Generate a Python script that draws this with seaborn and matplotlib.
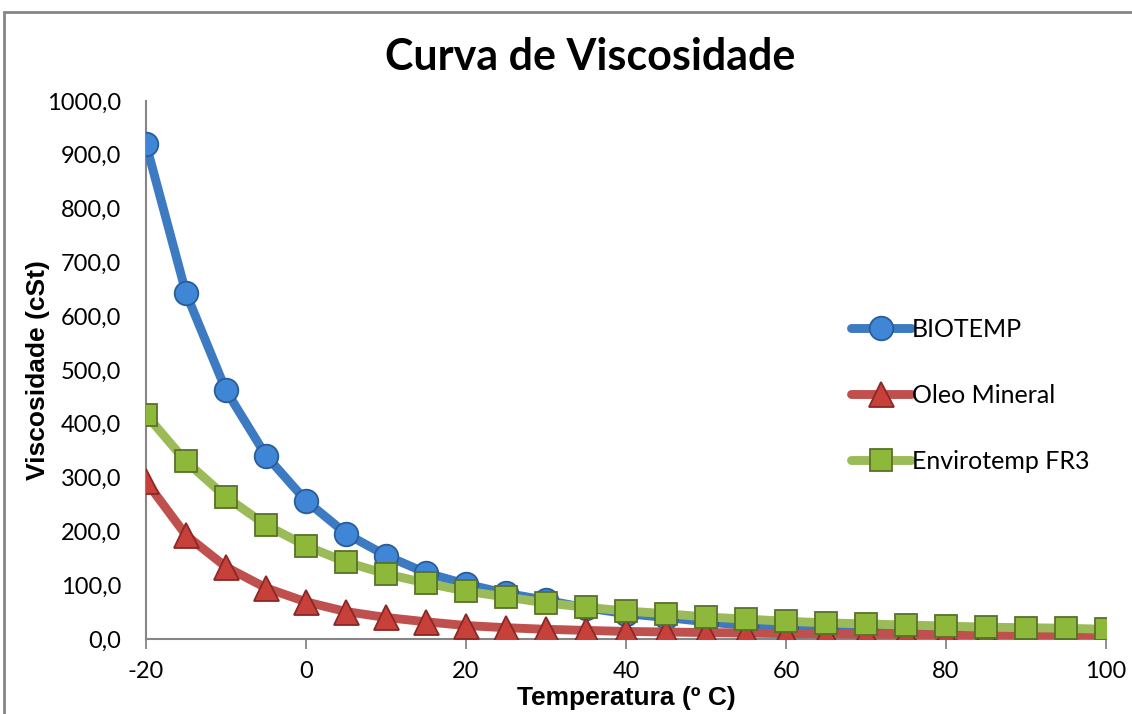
import matplotlib
matplotlib.use("Agg")
import matplotlib.pyplot as plt
import matplotlib.ticker as mticker
from matplotlib.lines import Line2D
import numpy as np
import pandas as pd
import seaborn as sns

temperatura = [-20, -15, -10, -5, 0, 5, 10, 15, 20, 25, 30, 35, 40, 45, 50,
               55, 60, 65, 70, 75, 80, 85, 90, 95, 100]
biotemp = [920, 643, 462, 341, 257, 196, 155, 123, 102, 85, 72, 58, 47, 40, 32,
           25, 19, 16, 14, 13, 12, 11, 10, 9, 9]
oleo_mineral = [293, 193, 134, 95, 69, 51, 40, 32, 25, 21, 18, 16, 14, 13, 12,
                11, 10, 9.5, 9, 8.5, 8, 7.5, 7, 6.5, 6]
envirotemp = [417, 330, 264, 212, 173, 143, 121, 104, 89, 78, 67, 59, 52, 47, 41,
              37, 33, 30, 28, 26, 24, 22, 21, 20, 18]

series_names = ["BIOTEMP", "Oleo Mineral", "Envirotemp FR3"]
x_ticks = [-20, 0, 20, 40, 60, 80, 100]
y_ticks = [0, 100, 200, 300, 400, 500, 600, 700, 800, 900, 1000]

df = pd.DataFrame({
    "Temperatura": temperatura * 3,
    "Viscosidade": biotemp + oleo_mineral + envirotemp,
    "Serie": [series_names[0]] * len(temperatura)
             + [series_names[1]] * len(temperatura)
             + [series_names[2]] * len(temperatura),
})

sns.set_theme(style="white")
plt.rcParams["font.family"] = ["Lato", "DejaVu Sans"]
plt.rcParams["text.color"] = "black"
plt.rcParams["axes.labelcolor"] = "black"
plt.rcParams["axes.unicode_minus"] = False

fig = plt.figure(figsize=(11.32, 7.14), dpi=100)
ax = fig.add_axes([146 / 1132, 1 - 639 / 714, (1106 - 146) / 1132, (639 - 101) / 714])

styles = {
    "BIOTEMP": dict(color="#3C7AC2", marker="o", mfc="#3F86D6", mec="#2A5C99", ms=17),
    "Oleo Mineral": dict(color="#C0504D", marker="^", mfc="#C8403A", mec="#8A2826", ms=18),
    "Envirotemp FR3": dict(color="#9BBB59", marker="s", mfc="#8DB83A", mec="#56722A", ms=16),
}

for i, name in enumerate(series_names):
    st = styles[name]
    sub = df[df["Serie"] == name]
    sns.lineplot(data=sub, x="Temperatura", y="Viscosidade", ax=ax,
                 color=st["color"], linewidth=6.4, marker=st["marker"],
                 markersize=st["ms"], markerfacecolor=st["mfc"],
                 markeredgecolor=st["mec"], markeredgewidth=1.3,
                 label=name, zorder=3 + i, solid_capstyle="round",
                 solid_joinstyle="round")

ax.set_xlim(-20, 100)
ax.set_ylim(0, 1000)
ax.set_xticks(x_ticks)
ax.set_yticks(y_ticks)
ax.yaxis.set_major_formatter(mticker.FuncFormatter(lambda v, p: f"{v:.1f}".replace(".", ",")))

for side in ["top", "right"]:
    ax.spines[side].set_visible(False)
for side in ["left", "bottom"]:
    ax.spines[side].set_color("#868686")
    ax.spines[side].set_linewidth(1.5)

ax.tick_params(axis="x", direction="out", length=7, width=1.3, color="#868686",
               labelsize=17, labelcolor="black", pad=9, bottom=True)
ax.tick_params(axis="y", length=0, labelsize=17, labelcolor="black", pad=18, left=False)

ax.set_xlabel("Temperatura (º C)", fontsize=19, fontweight="bold",
              family=["Liberation Sans", "DejaVu Sans"])
ax.set_ylabel("Viscosidade (cSt)", fontsize=19, fontweight="bold",
              family=["Liberation Sans", "DejaVu Sans"])
ax.xaxis.set_label_coords(0.5, (639 - 698) / 538)
ax.xaxis.label.set_va("center")
ax.yaxis.set_label_coords((38 - 146) / 960, 0.5)
ax.yaxis.label.set_va("center")

fig.text(590 / 1132, 1 - 57 / 714, "Curva de Viscosidade", ha="center", va="center",
         fontsize=31, fontweight="bold", color="black")

if ax.get_legend() is not None:
    ax.get_legend().remove()
handles, labels = ax.get_legend_handles_labels()
leg = fig.legend(handles, labels, loc="upper left",
                 bbox_to_anchor=(851 / 1132, 1 - 318 / 714),
                 frameon=False, fontsize=18, handlelength=2.4, handletextpad=0.05,
                 labelspacing=1.72, borderpad=0, borderaxespad=0)

# outer chart frame (top and left edges visible)
fig.add_artist(Line2D([4 / 1132, 4 / 1132], [0, 1 - 12 / 714], transform=fig.transFigure,
                      color="#868686", linewidth=2))
fig.add_artist(Line2D([4 / 1132, 1], [1 - 12 / 714, 1 - 12 / 714], transform=fig.transFigure,
                      color="#868686", linewidth=2))

fig.savefig("out.png", dpi=100)
